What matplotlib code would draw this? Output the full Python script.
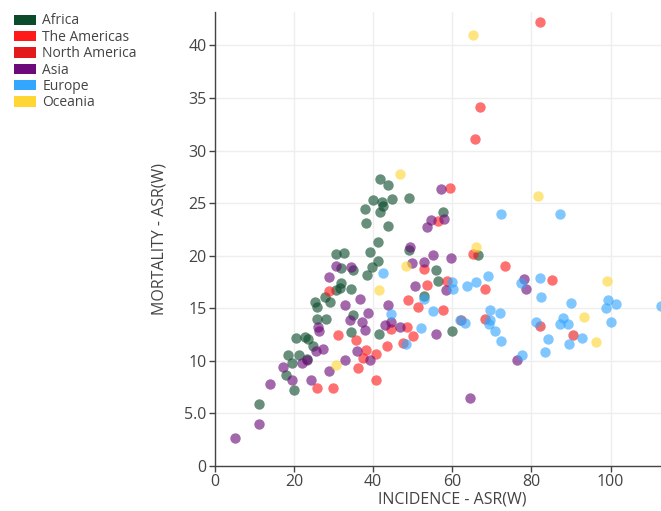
import matplotlib.pyplot as plt
from matplotlib.patches import Patch

plt.rcParams['font.family'] = ['Open Sans', 'DejaVu Sans']

regions = ['Africa', 'The Americas', 'North America', 'Asia', 'Europe', 'Oceania']
colors = ['#0b4b2b', '#ff1a1a', '#e31a1c', '#6b0a78', '#33a6ff', '#ffd633']

africa_x = [11.2, 20.0, 18.1, 19.6, 18.4, 21.2, 23.2, 24.7, 20.6, 22.7, 23.5, 25.7, 28.0,
            25.3, 25.7, 27.8, 29.0, 30.7, 31.6, 30.6, 32.7, 32.0, 34.5, 32.0, 34.9, 34.8,
            34.5, 38.5, 39.6, 39.3, 41.2, 41.2, 38.1, 43.8, 37.9, 41.7, 42.5, 40.0, 42.3,
            44.8, 49.1, 41.8, 43.8, 41.5, 49.0, 56.0, 56.4, 52.8, 57.7, 59.8, 66.5]
africa_y = [5.9, 7.2, 8.7, 9.8, 10.6, 10.6, 10.2, 11.4, 12.2, 12.3, 12.1, 14.0, 14.0,
            15.6, 15.1, 16.1, 15.6, 16.7, 16.9, 20.2, 20.3, 17.4, 16.8, 18.8, 18.6, 14.4,
            12.7, 18.2, 18.9, 20.4, 19.5, 21.3, 23.1, 22.8, 24.4, 24.2, 24.7, 25.3, 25.1,
            25.4, 25.5, 27.3, 26.7, 12.6, 20.5, 18.6, 17.6, 16.2, 24.2, 12.8, 20.1]

americas_x = [82.2, 67.1, 65.7, 59.3, 56.4, 65.2, 52.9, 53.6, 58.7, 48.8, 51.3, 57.7, 28.9,
              48.6, 31.1, 35.6, 36.1, 25.7, 29.9, 44.6, 47.5, 50.1, 43.4, 38.3, 40.7, 37.5,
              40.7, 73.2, 68.2, 85.3]
americas_y = [42.2, 34.1, 31.1, 26.4, 23.3, 20.2, 18.7, 17.2, 17.6, 15.8, 15.1, 14.8, 16.6,
              13.2, 12.5, 12.0, 9.3, 7.4, 7.4, 13.0, 11.7, 12.4, 11.4, 11.0, 10.7, 10.3,
              8.2, 19.0, 16.8, 17.7]

namerica_x = [68.2, 62.3, 82.2, 90.5]
namerica_y = [14.0, 13.9, 13.3, 12.5]

asia_x = [5.1, 11.2, 13.9, 17.1, 19.6, 24.4, 28.9, 32.8, 22.1, 23.2, 25.5, 27.3, 26.3, 26.1,
          30.6, 28.9, 32.8, 34.1, 34.5, 57.2, 54.5, 53.6, 57.8, 49.2, 49.9, 52.8, 55.0, 59.6,
          50.5, 58.5, 36.8, 38.7, 43.8, 37.2, 42.9, 44.4, 46.7, 37.9, 56.0, 35.9, 39.3, 64.4,
          78.1, 78.5, 76.3]
asia_y = [2.7, 4.0, 7.8, 9.4, 8.2, 8.2, 9.0, 10.1, 9.8, 10.1, 10.9, 11.1, 12.8, 13.2,
          19.0, 18.0, 15.3, 13.9, 18.9, 26.3, 23.4, 22.7, 23.5, 20.8, 19.3, 19.4, 20.1, 19.8,
          17.1, 16.7, 15.9, 14.6, 15.3, 13.7, 13.4, 13.7, 13.2, 12.9, 12.6, 10.9, 10.1, 6.5,
          17.8, 16.8, 10.1]

europe_x = [72.4, 87.1, 69.0, 65.9, 63.7, 60.0, 60.2, 82.1, 77.4, 82.3, 90.1, 99.3, 98.7,
            101.3, 112.6, 69.4, 72.1, 61.9, 63.1, 69.4, 69.3, 70.9, 72.4, 81.1, 88.0, 87.1,
            89.2, 84.2, 89.6, 92.8, 100.0, 77.7, 83.3, 42.5, 44.4, 52.9, 55.1, 52.2, 48.4]
europe_y = [24.0, 24.0, 18.1, 17.5, 17.1, 17.5, 16.8, 17.9, 17.4, 16.1, 15.5, 15.8, 15.0,
            15.4, 15.2, 14.8, 14.6, 13.9, 13.6, 13.9, 13.5, 12.8, 11.9, 13.7, 14.1, 13.5,
            13.5, 12.1, 11.6, 12.2, 13.7, 10.6, 10.8, 18.4, 14.5, 15.9, 14.7, 13.1, 11.6]

oceania_x = [65.2, 81.6, 46.7, 48.4, 41.5, 66.1, 99.2, 93.2, 96.2, 30.6]
oceania_y = [41.0, 25.7, 27.8, 19.0, 16.7, 20.8, 17.6, 14.2, 11.8, 9.6]

xs = [africa_x, americas_x, namerica_x, asia_x, europe_x, oceania_x]
ys = [africa_y, americas_y, namerica_y, asia_y, europe_y, oceania_y]

fig = plt.figure(figsize=(6.61, 5.11), dpi=100)
# plot area runs past the right edge of the image (x axis goes to 120)
ax = fig.add_axes([0.325, 0.088, 0.7186, 0.889])

for x, y, c in zip(xs, ys, colors):
    ax.scatter(x, y, s=56, color=c, alpha=0.62, linewidths=0, zorder=3)

ax.set_xlim(0, 120)
ax.set_ylim(0, 43.2)
ax.set_xticks([0, 20, 40, 60, 80, 100])
ax.set_yticks([0, 5, 10, 15, 20, 25, 30, 35, 40])
ax.set_yticklabels(['0', '5.0', '10', '15', '20', '25', '30', '35', '40'])
ax.grid(True, color='#eeeeee', linewidth=1, zorder=0)
ax.set_axisbelow(True)
for s in ['top', 'right']:
    ax.spines[s].set_visible(False)
for s in ['left', 'bottom']:
    ax.spines[s].set_color('#444444')
    ax.spines[s].set_linewidth(1)
ax.tick_params(colors='#444444', labelsize=11.5, length=4, width=1, pad=2)
ax.set_xlabel('INCIDENCE - ASR(W)', fontsize=11.5, color='#444444', labelpad=1)
ax.set_ylabel('MORTALITY - ASR(W)', fontsize=11.5, color='#444444', labelpad=12)

handles = [Patch(facecolor=c, edgecolor='none') for c in colors]
fig.legend(handles, regions, loc='upper left', bbox_to_anchor=(0.005, 0.994),
           frameon=False, fontsize=10, handlelength=1.6, handleheight=0.75,
           handletextpad=0.45, labelspacing=0.1, borderaxespad=0.35,
           labelcolor='#444444')

fig.savefig('out.png', dpi=100)
